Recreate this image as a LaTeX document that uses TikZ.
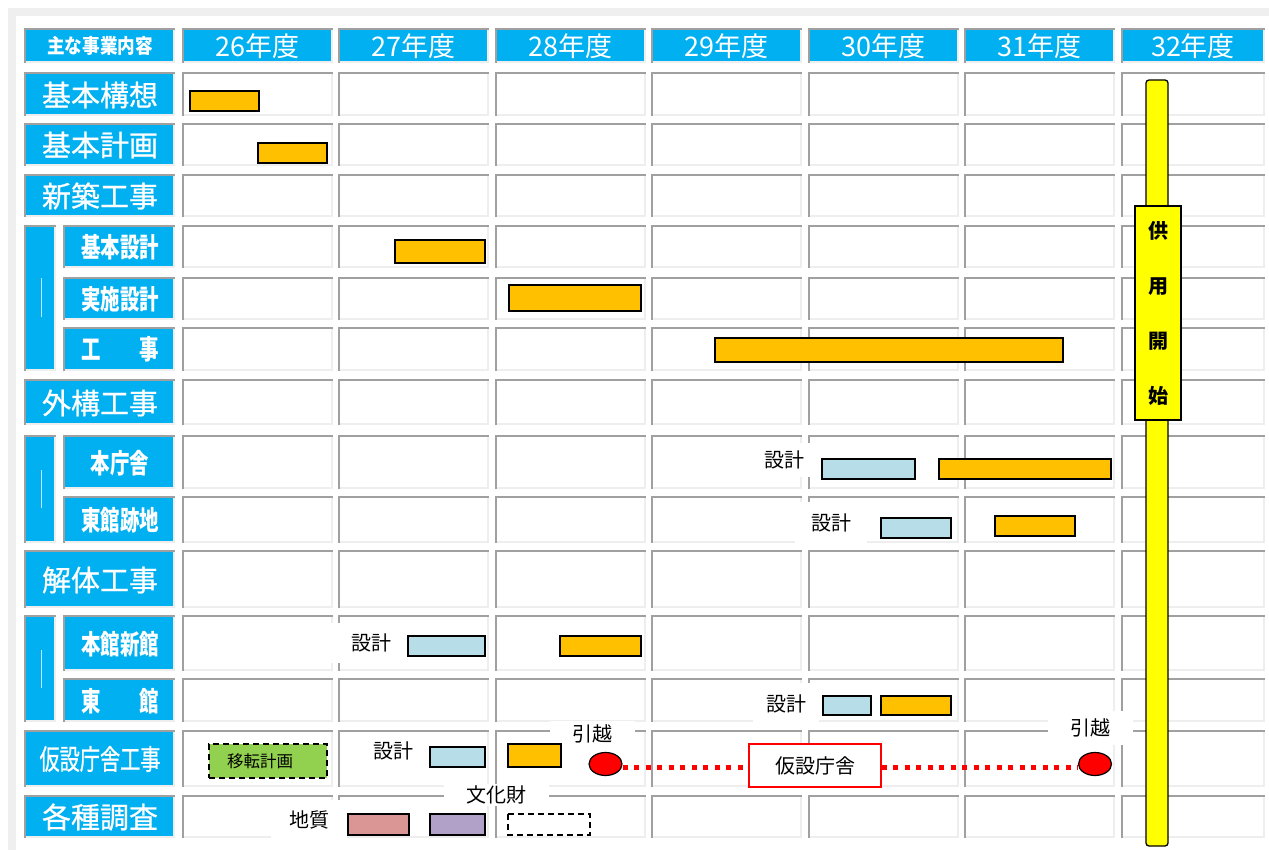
\documentclass[tikz,border=0pt]{standalone}
\usepackage{fontspec}
\newfontfamily\jp{Noto Sans CJK JP}
\newfontfamily\jpm[FakeBold=0.8]{Noto Sans CJK JP}
\newfontfamily\jpn[FakeStretch=0.72]{Noto Sans CJK JP}
\newfontfamily\jpnr[FakeStretch=0.72,FakeBold=0.8]{Noto Sans CJK JP}
\newfontfamily\jph[FakeStretch=0.88]{Noto Sans CJK JP}
\usetikzlibrary{shapes.geometric,calc}
\definecolor{cyanh}{HTML}{00B0F0}
\definecolor{bord}{HTML}{A0A0A0}
\definecolor{bordl}{HTML}{EEEEEE}
\definecolor{bggray}{HTML}{EFEFEF}
\definecolor{orng}{HTML}{FFC000}
\definecolor{lblue}{HTML}{B7DEE8}
\definecolor{pinkb}{HTML}{DA9694}
\definecolor{purpb}{HTML}{B1A0C7}
\definecolor{greenb}{HTML}{92D050}
\definecolor{yel}{HTML}{FFFF00}
\definecolor{faint}{HTML}{BFE9FA}
\newcommand\gcell[5]{%
  \fill[#5] (#1,#2) rectangle (#3,#4);
  \draw[bordl,line width=2pt] (#1,#4-1) -- (#3-1,#4-1) -- (#3-1,#2);
  \draw[bord,line width=2pt] (#1+1,#4) -- (#1+1,#2+1) -- (#3,#2+1);
}
\tikzset{
  mainlbl/.style={text=white, inner sep=0, font=\jpm\fontsize{29}{29}\selectfont},
  sublbl/.style={text=white, inner sep=0, font=\jpn\bfseries\fontsize{27}{27}\selectfont},
  yearlbl/.style={text=white, inner sep=0, font=\jp\fontsize{27}{27}\selectfont},
  note/.style={fill=white, text=black, inner sep=0, font=\jp\fontsize{20}{20}\selectfont},
  bar/.style={draw=black, line width=1.3pt},
  dotline/.style={draw=red, line width=5pt, dash pattern=on 5pt off 6.5pt},
  mover/.style={ellipse, draw=black, fill=red, line width=1.2pt, minimum width=33, minimum height=23, inner sep=0},
}
\begin{document}
\begin{tikzpicture}[x=1pt,y=-1pt]
\useasboundingbox (0,0) rectangle (1269,850);
\fill[white] (0,0) rectangle (1269,850);
\fill[bggray] (8,8) rectangle (1269,16);
\fill[bggray] (8,8) rectangle (16,850);

% year columns
\foreach \xa/\xb [count=\i] in {182/333,338/489,495/646,651/802,808/959,964/1115,1121/1265}{
  \gcell{\xa}{28}{\xb}{63}{cyanh}
  \foreach \ya/\yb in {72/116,123/166,174/217,225/268,277/320,327/371,379/425,435/489,496/543,550/608,615/671,678/722,730/787,795/838}{
    \gcell{\xa}{\ya}{\xb}{\yb}{white}
  }
}
\foreach \xa/\xb/\t [count=\i] in {182/333/26,338/489/27,495/646/28,651/802/29,808/959/30,964/1115/31,1121/1265/32}{
  \node[yearlbl] (yr\i) at ({(\xa+\xb)/2},46) {\t 年度};
}

% main label cells
\foreach \ya/\yb in {28/63,72/116,123/166,174/217,379/425,550/608,730/787,795/838}{
  \gcell{24}{\ya}{175}{\yb}{cyanh}
}
% group bars
\foreach \ya/\yb/\fa/\fb [count=\i] in {225/371/278/317,435/543/470/508,615/722/650/688}{
  \gcell{24}{\ya}{56}{\yb}{cyanh}
  \draw[faint,line width=0.8pt] (41,\fa) -- (41,\fb);
}
% sub label cells
\foreach \ya/\yb in {225/268,277/320,327/371,435/489,496/543,615/671,678/722}{
  \gcell{63}{\ya}{175}{\yb}{cyanh}
}

\node[text=white, inner sep=0, font=\jph\bfseries\fontsize{20}{20}\selectfont] (hdr) at (100,46) {主な事業内容};
\node[mainlbl] (l1) at (100,95) {基本構想};
\node[mainlbl] (l2) at (100,145) {基本計画};
\node[mainlbl] (l3) at (100,196) {新築工事};
\node[sublbl] (s1) at (120,247) {基本設計};
\node[sublbl] (s2) at (120,299) {実施設計};
\node[sublbl] (s3) at (120,349) {工　　事};
\node[mainlbl] (l4) at (100,403) {外構工事};
\node[sublbl] (s4) at (120,463) {本庁舎};
\node[sublbl] (s5) at (120,520) {東館跡地};
\node[mainlbl] (l5) at (100,580) {解体工事};
\node[sublbl] (s6) at (120,644) {本館新館};
\node[sublbl] (s7) at (120,701) {東　　館};
\node[text=white, inner sep=0, font=\jpnr\fontsize{28}{28}\selectfont] (l6) at (100,759) {仮設庁舎工事};
\node[mainlbl] (l7) at (100,817) {各種調査};

% annotation labels (white boxes)
\node[note, minimum width=60, minimum height=34] (d1) at (784,460) {設計};
\node[note, minimum width=72, minimum height=42] (d2) at (831,523) {設計};
\node[note, minimum width=80, minimum height=40] (d3) at (371,643) {設計};
\node[note, minimum width=66, minimum height=42] (d4) at (786,704) {設計};
\node[note, minimum width=66, minimum height=34] (d5) at (393,751) {設計};
\node[note, minimum width=76, minimum height=40] (geo) at (309,820) {地質};
\node[note, minimum width=85, minimum height=26] (mv1) at (592,734) {引越};
\node[note, minimum width=85, minimum height=34] (mv2) at (1090,728) {引越};
\node[note, minimum width=105, minimum height=22] (bunka) at (496,795) {文化財};

% bars
\draw[bar, fill=orng] (190,91) rectangle (259,111);
\draw[bar, fill=orng] (258,143) rectangle (327,163);
\draw[bar, fill=orng] (395,240) rectangle (485,263);
\draw[bar, fill=orng] (509,285) rectangle (641,311);
\draw[bar, fill=orng] (715,338) rectangle (1063,362);
\draw[bar, fill=lblue] (822,459) rectangle (915,479);
\draw[bar, fill=orng] (939,459) rectangle (1111,479);
\draw[bar, fill=lblue] (881,518) rectangle (951,538);
\draw[bar, fill=orng] (995,516) rectangle (1075,536);
\draw[bar, fill=lblue] (408,636) rectangle (485,656);
\draw[bar, fill=orng] (560,636) rectangle (641,656);
\draw[bar, fill=lblue] (823,696) rectangle (871,715);
\draw[bar, fill=orng] (881,696) rectangle (951,715);
\draw[bar, fill=lblue] (430,747) rectangle (485,767);
\draw[bar, fill=orng] (508,744) rectangle (561,767);
\draw[bar, fill=pinkb] (348,814) rectangle (409,835);
\draw[bar, fill=purpb] (430,814) rectangle (485,835);
\draw[bar, fill=white, dash pattern=on 6pt off 4pt] (508,814) rectangle (590,835);

% relocation plan
\node[draw=black, line width=1.5pt, dash pattern=on 6pt off 4pt, fill=greenb,
      minimum height=34, text width=82, inner xsep=18, inner ysep=0, align=left,
      font=\jp\fontsize{16.5}{16.5}\selectfont] (iten) at (268,761) {移転計画};

% temporary office line
\node[mover] (e1) at (605.5,764) {};
\node[mover] (e2) at (1095,764) {};
\node[draw=red, line width=1.5pt, fill=white, minimum width=132, minimum height=43, inner sep=0,
      font=\jp\fontsize{20}{20}\selectfont] (kasetsu) at (815,765.5) {仮設庁舎};
\draw[dotline] ($(e1.east)+(0,3)$) -- ($(kasetsu.west)+(0,1.5)$);
\draw[dotline] ($(kasetsu.east)+(0,1.5)$) -- ($(e2.west)+(0,3)$);

% service start bar
\draw[fill=yel, line width=1.3pt, rounded corners=3pt] (1146,80) rectangle (1168,846);
\node[draw=black, fill=yel, line width=1.3pt, minimum width=46, minimum height=214, inner sep=0,
      align=center, font=\jp\bfseries\fontsize{20}{55}\selectfont] (kyoyo) at (1158,313) {供\\用\\開\\始};
\end{tikzpicture}
\end{document}
